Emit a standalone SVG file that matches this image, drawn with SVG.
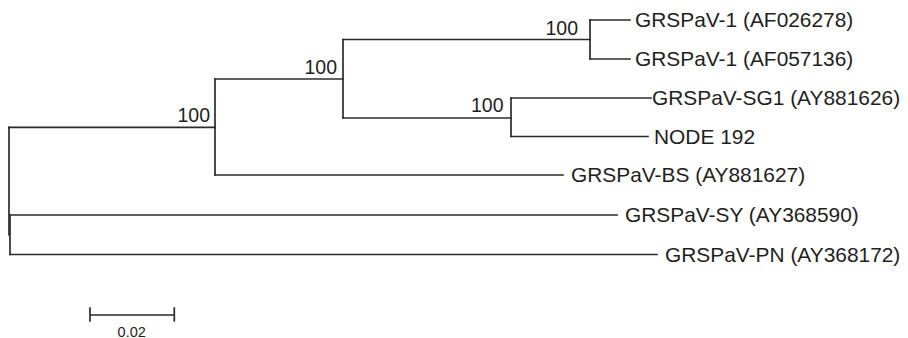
<svg xmlns="http://www.w3.org/2000/svg" width="908" height="338" viewBox="0 0 908 338">
<style>
.br{fill:none;stroke:#2b2b2b;stroke-width:1.7;stroke-linecap:square}
.tip{font-family:"Liberation Sans",Arial,sans-serif;font-size:20.9px;fill:#1e1e1e}
.bs{font-family:"Liberation Sans",Arial,sans-serif;font-size:19.5px;fill:#1e1e1e;text-anchor:end}
.sc{font-family:"Liberation Sans",Arial,sans-serif;font-size:14.5px;fill:#1e1e1e;text-anchor:middle}
</style>
<rect width="908" height="338" fill="#ffffff"/>
<g id="connectors">
<path class="br" d="M9,127.3 V235"/>
<path class="br" d="M9,127.3 H215"/>
<path class="br" d="M215,79 V175"/>
<path class="br" d="M215,79 H343"/>
<path class="br" d="M343,39.5 V118"/>
<path class="br" d="M343,39.5 H590"/>
<path class="br" d="M590,20 V59"/>
<path class="br" d="M590,20 H630"/>
<path class="br" d="M590,59 H630"/>
<path class="br" d="M343,118 H511"/>
<path class="br" d="M511,98 V136.5"/>
<path class="br" d="M511,98 H651"/>
<path class="br" d="M511,136.5 H648"/>
<path class="br" d="M215,175 H563"/>
<path class="br" d="M10,215 V254.5"/>
<path class="br" d="M10,215 H617"/>
<path class="br" d="M10,254.5 H657"/>
</g>
<g id="bootstrap">
<text class="bs" x="210" y="122.3">100</text>
<text class="bs" x="337" y="74">100</text>
<text class="bs" x="578" y="35">100</text>
<text class="bs" x="503.5" y="111.7">100</text>
</g>
<g id="tip-af026278"><text class="tip" x="635" y="27.4">GRSPaV-1 (AF026278)</text></g>
<g id="tip-af057136"><text class="tip" x="635" y="66.4">GRSPaV-1 (AF057136)</text></g>
<g id="tip-ay881626"><text class="tip" x="652" y="105.4">GRSPaV-SG1 (AY881626)</text></g>
<g id="tip-node192"><text class="tip" x="654" y="143.9">NODE 192</text></g>
<g id="tip-ay881627"><text class="tip" x="571" y="182.4">GRSPaV-BS (AY881627)</text></g>
<g id="tip-ay368590"><text class="tip" x="625" y="222.4">GRSPaV-SY (AY368590)</text></g>
<g id="tip-ay368172"><text class="tip" x="665" y="261.9">GRSPaV-PN (AY368172)</text></g>
<g id="scale">
<path class="br" d="M90,315 H174.3 M90,308 V321 M174.3,308 V321"/>
<text class="sc" x="131.7" y="336.5">0.02</text>
</g>
</svg>
